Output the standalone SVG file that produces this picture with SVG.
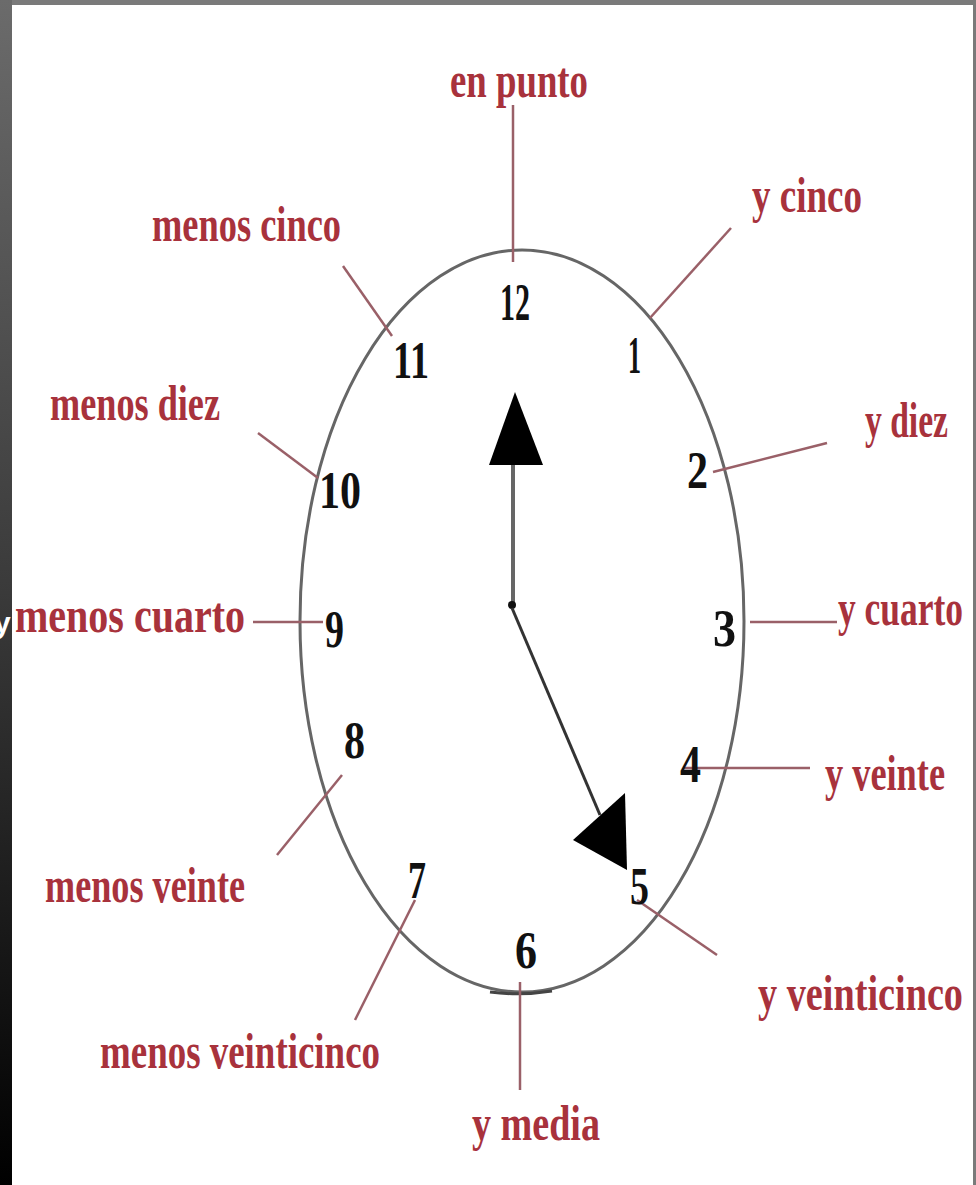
<svg xmlns="http://www.w3.org/2000/svg" width="976" height="1185" viewBox="0 0 976 1185">
<defs>
<linearGradient id="lg" x1="0" y1="0" x2="0" y2="1">
<stop offset="0" stop-color="#6b6b6b"/>
<stop offset="0.5" stop-color="#3a3a3a"/>
<stop offset="1" stop-color="#000"/>
</linearGradient>
<style>
.lbl{font-family:"Liberation Serif",serif;font-weight:bold;font-size:50px;fill:#a8323c}
.num{font-family:"Liberation Serif",serif;font-weight:bold;font-size:52px;fill:#111}
.con{stroke:#9a6068;stroke-width:2.5;fill:none}
</style>
</defs>
<rect x="0" y="0" width="976" height="1185" fill="#fff"/>
<rect x="0" y="0" width="976" height="5" fill="#7a7a7a"/>
<rect x="973" y="0" width="3" height="1185" fill="#7a7a7a"/>
<rect x="0" y="0" width="12" height="1185" fill="url(#lg)"/>
<text x="-6" y="633" font-family="Liberation Sans,sans-serif" font-weight="bold" font-size="30" fill="#fff">y</text>

<g id="clock">
<ellipse cx="522" cy="621" rx="222" ry="371" fill="none" stroke="#666" stroke-width="3"/>
<path d="M490 992 Q520 996 552 991" stroke="#444" stroke-width="3" fill="none"/>
</g>

<g id="connectors">
<line class="con" x1="513" y1="105" x2="513" y2="262"/>
<line class="con" x1="731" y1="228" x2="650" y2="318"/>
<line class="con" x1="343" y1="266" x2="392" y2="336"/>
<line class="con" x1="258" y1="433" x2="318" y2="478"/>
<line class="con" x1="827" y1="443" x2="713" y2="472"/>
<line class="con" x1="253" y1="622" x2="323" y2="622"/>
<line class="con" x1="750" y1="622" x2="837" y2="622"/>
<line class="con" x1="683" y1="768" x2="810" y2="768"/>
<line class="con" x1="277" y1="855" x2="342" y2="775"/>
<line class="con" x1="355" y1="1020" x2="415" y2="900"/>
<line class="con" x1="637" y1="900" x2="717" y2="955"/>
<line class="con" x1="520" y1="982" x2="520" y2="1090"/>
</g>

<g id="hands">
<line x1="513" y1="605" x2="513" y2="462" stroke="#666" stroke-width="4"/>
<polygon points="489,465 543,465 515,392" fill="#000"/>
<circle cx="512" cy="605" r="4" fill="#111"/>
<line x1="512" y1="608" x2="600" y2="815" stroke="#333" stroke-width="3"/>
<polygon points="573,840 625,793 627,870" fill="#000"/>
</g>

<g id="numbers">
<text class="num" x="500" y="320" textLength="30" lengthAdjust="spacingAndGlyphs">12</text>
<text class="num" x="628" y="373" textLength="13" lengthAdjust="spacingAndGlyphs">1</text>
<text class="num" x="687" y="488" textLength="21" lengthAdjust="spacingAndGlyphs">2</text>
<text class="num" x="713" y="646" textLength="23" lengthAdjust="spacingAndGlyphs">3</text>
<text class="num" x="680" y="782" textLength="21" lengthAdjust="spacingAndGlyphs">4</text>
<text class="num" x="630" y="904" textLength="19" lengthAdjust="spacingAndGlyphs">5</text>
<text class="num" x="515" y="968" textLength="22" lengthAdjust="spacingAndGlyphs">6</text>
<text class="num" x="408" y="898" textLength="18" lengthAdjust="spacingAndGlyphs">7</text>
<text class="num" x="344" y="758" textLength="21" lengthAdjust="spacingAndGlyphs">8</text>
<text class="num" x="325" y="647" textLength="19" lengthAdjust="spacingAndGlyphs">9</text>
<text class="num" x="319" y="508" textLength="42" lengthAdjust="spacingAndGlyphs">10</text>
<text class="num" x="393" y="378" textLength="36" lengthAdjust="spacingAndGlyphs">11</text>
</g>

<g id="labels">
<text class="lbl" x="450" y="97" textLength="138" lengthAdjust="spacingAndGlyphs">en punto</text>
<text class="lbl" x="752" y="212" textLength="110" lengthAdjust="spacingAndGlyphs">y cinco</text>
<text class="lbl" x="152" y="241" textLength="189" lengthAdjust="spacingAndGlyphs">menos cinco</text>
<text class="lbl" x="50" y="420" textLength="170" lengthAdjust="spacingAndGlyphs">menos diez</text>
<text class="lbl" x="865" y="437" textLength="83" lengthAdjust="spacingAndGlyphs">y diez</text>
<text class="lbl" x="15" y="632" textLength="230" lengthAdjust="spacingAndGlyphs">menos cuarto</text>
<text class="lbl" x="838" y="625" textLength="125" lengthAdjust="spacingAndGlyphs">y cuarto</text>
<text class="lbl" x="825" y="790" textLength="120" lengthAdjust="spacingAndGlyphs">y veinte</text>
<text class="lbl" x="45" y="902" textLength="200" lengthAdjust="spacingAndGlyphs">menos veinte</text>
<text class="lbl" x="758" y="1010" textLength="205" lengthAdjust="spacingAndGlyphs">y veinticinco</text>
<text class="lbl" x="100" y="1068" textLength="280" lengthAdjust="spacingAndGlyphs">menos veinticinco</text>
<text class="lbl" x="472" y="1140" textLength="128" lengthAdjust="spacingAndGlyphs">y media</text>
</g>
</svg>
